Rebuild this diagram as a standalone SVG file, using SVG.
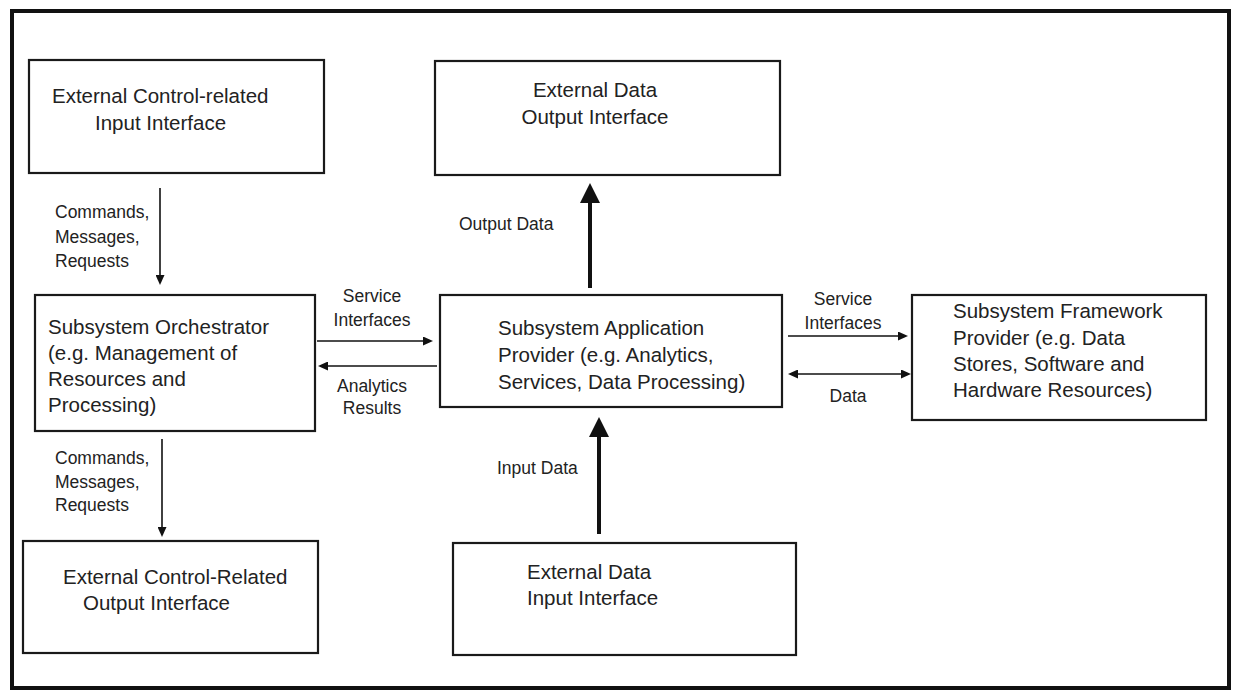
<svg xmlns="http://www.w3.org/2000/svg" width="1236" height="692" viewBox="0 0 1236 692">
  <style>
    .box { fill: #ffffff; stroke: #1a1a1a; stroke-width: 2.2; }
    .txt { font-family: "Liberation Sans", Arial, sans-serif; font-size: 20.5px; fill: #222222; }
    .lbl { font-family: "Liberation Sans", Arial, sans-serif; font-size: 17.5px; fill: #222222; }
    .thin { stroke: #111111; stroke-width: 1.6; fill: none; }
    .thick { stroke: #111111; stroke-width: 4; fill: none; }
  </style>
  <defs>
    <marker id="headThin" markerUnits="userSpaceOnUse" markerWidth="10" markerHeight="9" refX="6" refY="4.5" orient="auto-start-reverse">
      <path d="M0,0 L10,4.5 L0,9 z" fill="#111111"/>
    </marker>
    <marker id="headThick" markerUnits="userSpaceOnUse" markerWidth="20" markerHeight="20" refX="10" refY="10" orient="auto">
      <path d="M0,0 L20,10 L0,20 z" fill="#111111"/>
    </marker>
  </defs>

  <rect x="0" y="0" width="1236" height="692" fill="#ffffff"/>
  <!-- outer frame -->
  <rect x="12" y="11" width="1217" height="677" fill="none" stroke="#111111" stroke-width="4"/>

  <g id="ext-control-input">
    <rect class="box" x="29" y="60" width="295" height="113"/>
    <text class="txt" x="52" y="103">External Control-related</text>
    <text class="txt" x="95" y="130">Input Interface</text>
  </g>

  <g id="ext-data-output">
    <rect class="box" x="435" y="61" width="345" height="114"/>
    <text class="txt" x="595" y="97" text-anchor="middle">External Data</text>
    <text class="txt" x="595" y="124" text-anchor="middle">Output Interface</text>
  </g>

  <g id="orchestrator">
    <rect class="box" x="35" y="295" width="280" height="136"/>
    <text class="txt" x="48" y="334">Subsystem Orchestrator</text>
    <text class="txt" x="48" y="360">(e.g. Management of</text>
    <text class="txt" x="48" y="386">Resources and</text>
    <text class="txt" x="48" y="412">Processing)</text>
  </g>

  <g id="application-provider">
    <rect class="box" x="440" y="295" width="342" height="112"/>
    <text class="txt" x="498" y="335">Subsystem Application</text>
    <text class="txt" x="498" y="362">Provider (e.g. Analytics,</text>
    <text class="txt" x="498" y="389">Services, Data Processing)</text>
  </g>

  <g id="framework-provider">
    <rect class="box" x="912" y="295" width="294" height="125"/>
    <text class="txt" x="953" y="318">Subsystem Framework</text>
    <text class="txt" x="953" y="345">Provider (e.g. Data</text>
    <text class="txt" x="953" y="371">Stores, Software and</text>
    <text class="txt" x="953" y="397">Hardware Resources)</text>
  </g>

  <g id="ext-control-output">
    <rect class="box" x="23" y="541" width="295" height="112"/>
    <text class="txt" x="63" y="584">External Control-Related</text>
    <text class="txt" x="83" y="610">Output Interface</text>
  </g>

  <g id="ext-data-input">
    <rect class="box" x="453" y="543" width="343" height="112"/>
    <text class="txt" x="527" y="579">External Data</text>
    <text class="txt" x="527" y="605">Input Interface</text>
  </g>

  <g id="connectors">
    <!-- control path: input interface to orchestrator -->
    <line class="thin" x1="160" y1="188" x2="160" y2="281" marker-end="url(#headThin)"/>
    <!-- orchestrator to application provider and back -->
    <line class="thin" x1="317" y1="341" x2="429" y2="341" marker-end="url(#headThin)"/>
    <line class="thin" x1="437" y1="366" x2="322" y2="366" marker-end="url(#headThin)"/>
    <!-- application provider to framework provider -->
    <line class="thin" x1="788" y1="336" x2="904" y2="336" marker-end="url(#headThin)"/>
    <line class="thin" x1="792" y1="374" x2="907" y2="374" marker-start="url(#headThin)" marker-end="url(#headThin)"/>
    <!-- orchestrator to control output interface -->
    <line class="thin" x1="162" y1="439" x2="162" y2="533" marker-end="url(#headThin)"/>
    <!-- data path -->
    <line class="thick" x1="590" y1="288" x2="590" y2="193" marker-end="url(#headThick)"/>
    <line class="thick" x1="599" y1="534" x2="599" y2="427" marker-end="url(#headThick)"/>

    <text class="lbl" x="55" y="218">Commands,</text>
    <text class="lbl" x="55" y="243">Messages,</text>
    <text class="lbl" x="55" y="267">Requests</text>

    <text class="lbl" x="372" y="302" text-anchor="middle">Service</text>
    <text class="lbl" x="372" y="326" text-anchor="middle">Interfaces</text>
    <text class="lbl" x="372" y="392" text-anchor="middle">Analytics</text>
    <text class="lbl" x="372" y="414" text-anchor="middle">Results</text>

    <text class="lbl" x="843" y="305" text-anchor="middle">Service</text>
    <text class="lbl" x="843" y="329" text-anchor="middle">Interfaces</text>
    <text class="lbl" x="848" y="402" text-anchor="middle">Data</text>

    <text class="lbl" x="459" y="230">Output Data</text>
    <text class="lbl" x="497" y="474">Input Data</text>

    <text class="lbl" x="55" y="464">Commands,</text>
    <text class="lbl" x="55" y="488">Messages,</text>
    <text class="lbl" x="55" y="511">Requests</text>
  </g>
</svg>
